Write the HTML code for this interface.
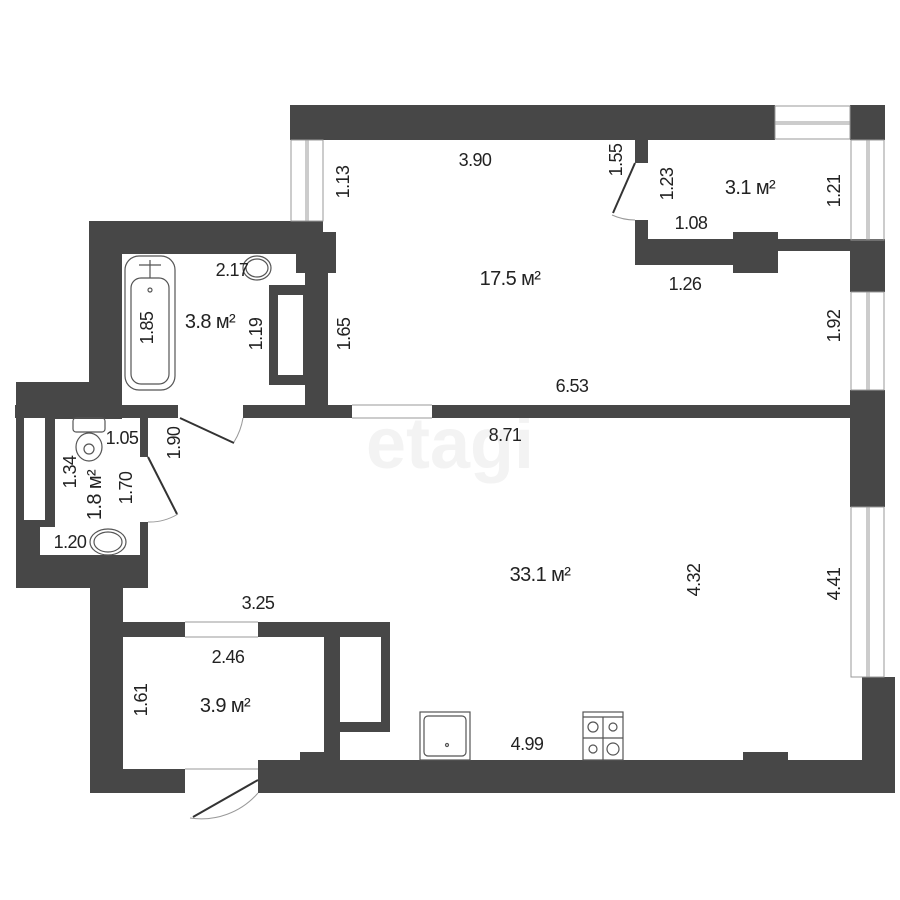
<!DOCTYPE html>
<html><head><meta charset="utf-8"><style>
html,body{margin:0;padding:0;background:#fff}
svg{display:block}
text{font-family:"Liberation Sans Narrow","Liberation Sans",sans-serif;font-size:18px;letter-spacing:-0.6px;fill:#222}
</style></head><body>
<svg width="900" height="900" viewBox="0 0 900 900">
<text x="450" y="468" text-anchor="middle" style="font-size:72px;fill:#f3f3f3;font-weight:bold;letter-spacing:0">etagi</text>
<g fill="#474747">
<rect x="290" y="105" width="485" height="35"/>
<rect x="850" y="105" width="35" height="35"/>
<rect x="89" y="221" width="234" height="33"/>
<rect x="320" y="232" width="16" height="41"/>
<rect x="296" y="254" width="30" height="19"/>
<rect x="305" y="273" width="23" height="145"/>
<rect x="269" y="285" width="36" height="100"/>
<rect x="89" y="221" width="33" height="197"/>
<rect x="15" y="405" width="163" height="13"/>
<rect x="243" y="405" width="109" height="13"/>
<rect x="432" y="405" width="420" height="13"/>
<rect x="16" y="382" width="106" height="37"/>
<rect x="16" y="382" width="39" height="206"/>
<rect x="16" y="555" width="132" height="33"/>
<rect x="140" y="418" width="8" height="39"/>
<rect x="140" y="522" width="8" height="35"/>
<rect x="90" y="555" width="33" height="238"/>
<rect x="123" y="622" width="62" height="15"/>
<rect x="258" y="622" width="132" height="15"/>
<rect x="324" y="622" width="16" height="138"/>
<rect x="340" y="622" width="50" height="110"/>
<rect x="300" y="752" width="40" height="20"/>
<rect x="90" y="769" width="95" height="24"/>
<rect x="258" y="760" width="637" height="33"/>
<rect x="743" y="752" width="45" height="12"/>
<rect x="862" y="677" width="33" height="116"/>
<rect x="635" y="140" width="13" height="23"/>
<rect x="635" y="220" width="13" height="45"/>
<rect x="635" y="239" width="250" height="12"/>
<rect x="635" y="239" width="100" height="26"/>
<rect x="733" y="232" width="45" height="41"/>
<rect x="850" y="240" width="35" height="52"/>
<rect x="850" y="390" width="35" height="117"/>
</g>
<g fill="#fff">
<rect x="278" y="295" width="25" height="80"/>
<rect x="55" y="419" width="85" height="136"/>
<rect x="40" y="527" width="100" height="28"/>
<rect x="24" y="418" width="21" height="102"/>
<rect x="340" y="637" width="41" height="85"/>
</g>
<g fill="none" stroke="#999" stroke-width="1">
<rect x="291" y="140" width="32" height="81"/><line x1="306" y1="140" x2="306" y2="221"/><line x1="308" y1="140" x2="308" y2="221"/>
<rect x="775" y="106" width="75" height="33"/><line x1="775" y1="122" x2="850" y2="122"/><line x1="775" y1="124" x2="850" y2="124"/>
<rect x="851" y="140" width="33" height="100"/><line x1="867" y1="140" x2="867" y2="240"/><line x1="869" y1="140" x2="869" y2="240"/>
<rect x="851" y="292" width="33" height="98"/><line x1="867" y1="292" x2="867" y2="390"/><line x1="869" y1="292" x2="869" y2="390"/>
<rect x="851" y="507" width="33" height="170"/><line x1="867" y1="507" x2="867" y2="677"/><line x1="869" y1="507" x2="869" y2="677"/>
<line x1="352" y1="405" x2="432" y2="405"/><line x1="352" y1="418" x2="432" y2="418"/>
<line x1="185" y1="622" x2="258" y2="622"/><line x1="185" y1="637" x2="258" y2="637"/>
<line x1="185" y1="769" x2="258" y2="769"/>
<path d="M243 418 A65 65 0 0 1 234 442"/>
<path d="M148 522 A55 55 0 0 0 178 514"/>
<path d="M612 215 A55 55 0 0 0 635 220"/>
<path d="M258 793 A75 75 0 0 1 190 818" />
</g>
<g stroke="#333" stroke-width="2" fill="none">
<line x1="180" y1="418" x2="234" y2="443"/>
<line x1="148" y1="457" x2="177" y2="514"/>
<line x1="635" y1="163" x2="613" y2="213"/>
<line x1="258" y1="780" x2="193" y2="817"/>
</g>
<g fill="none" stroke="#555" stroke-width="1.2">
<rect x="125" y="256" width="50" height="134" rx="14"/>
<rect x="131" y="278" width="38" height="106" rx="10"/>
<path d="M139 265 h22 M150 260 v18"/>
<circle cx="150" cy="290" r="2"/>
<ellipse cx="257" cy="268" rx="14" ry="12"/><ellipse cx="257" cy="268" rx="11" ry="9"/>
<rect x="73" y="418" width="32" height="14" rx="3"/>
<ellipse cx="89" cy="447" rx="13" ry="14"/><ellipse cx="89" cy="449" rx="5" ry="5"/>
<ellipse cx="108" cy="542" rx="18" ry="13"/><ellipse cx="108" cy="542" rx="14" ry="10"/>
<rect x="420" y="712" width="50" height="48"/><rect x="424" y="716" width="42" height="40" rx="4"/>
<circle cx="447" cy="745" r="1.5"/>
<rect x="583" y="712" width="40" height="48"/><line x1="583" y1="717" x2="623" y2="717"/>
<line x1="603" y1="717" x2="603" y2="760"/><line x1="583" y1="738" x2="623" y2="738"/>
<circle cx="593" cy="727" r="5"/><circle cx="613" cy="727" r="4"/><circle cx="593" cy="749" r="4"/><circle cx="613" cy="749" r="6"/>
</g>
<text x="475" y="166" text-anchor="middle">3.90</text>
<text x="750" y="194" text-anchor="middle" style="font-size:20px">3.1 м²</text>
<text x="691" y="229" text-anchor="middle">1.08</text>
<text x="685" y="290" text-anchor="middle">1.26</text>
<text x="510" y="285" text-anchor="middle" style="font-size:20px">17.5 м²</text>
<text x="572" y="392" text-anchor="middle">6.53</text>
<text x="505" y="441" text-anchor="middle">8.71</text>
<text x="232" y="276" text-anchor="middle">2.17</text>
<text x="210" y="328" text-anchor="middle" style="font-size:20px">3.8 м²</text>
<text x="122" y="444" text-anchor="middle">1.05</text>
<text x="70" y="548" text-anchor="middle">1.20</text>
<text x="540" y="581" text-anchor="middle" style="font-size:20px">33.1 м²</text>
<text x="258" y="609" text-anchor="middle">3.25</text>
<text x="228" y="663" text-anchor="middle">2.46</text>
<text x="225" y="712" text-anchor="middle" style="font-size:20px">3.9 м²</text>
<text x="527" y="750" text-anchor="middle">4.99</text>
<g>
<text transform="translate(349,182) rotate(-90)" text-anchor="middle">1.13</text>
<text transform="translate(622,160) rotate(-90)" text-anchor="middle">1.55</text>
<text transform="translate(673,184) rotate(-90)" text-anchor="middle">1.23</text>
<text transform="translate(840,191) rotate(-90)" text-anchor="middle">1.21</text>
<text transform="translate(840,326) rotate(-90)" text-anchor="middle">1.92</text>
<text transform="translate(153,328) rotate(-90)" text-anchor="middle">1.85</text>
<text transform="translate(262,334) rotate(-90)" text-anchor="middle">1.19</text>
<text transform="translate(350,334) rotate(-90)" text-anchor="middle">1.65</text>
<text transform="translate(180,443) rotate(-90)" text-anchor="middle">1.90</text>
<text transform="translate(76,472) rotate(-90)" text-anchor="middle">1.34</text>
<text transform="translate(101,495) rotate(-90)" text-anchor="middle" style="font-size:20px">1.8 м²</text>
<text transform="translate(132,488) rotate(-90)" text-anchor="middle">1.70</text>
<text transform="translate(147,700) rotate(-90)" text-anchor="middle">1.61</text>
<text transform="translate(700,580) rotate(-90)" text-anchor="middle">4.32</text>
<text transform="translate(840,584) rotate(-90)" text-anchor="middle">4.41</text>
</g>
</svg>
</body></html>
